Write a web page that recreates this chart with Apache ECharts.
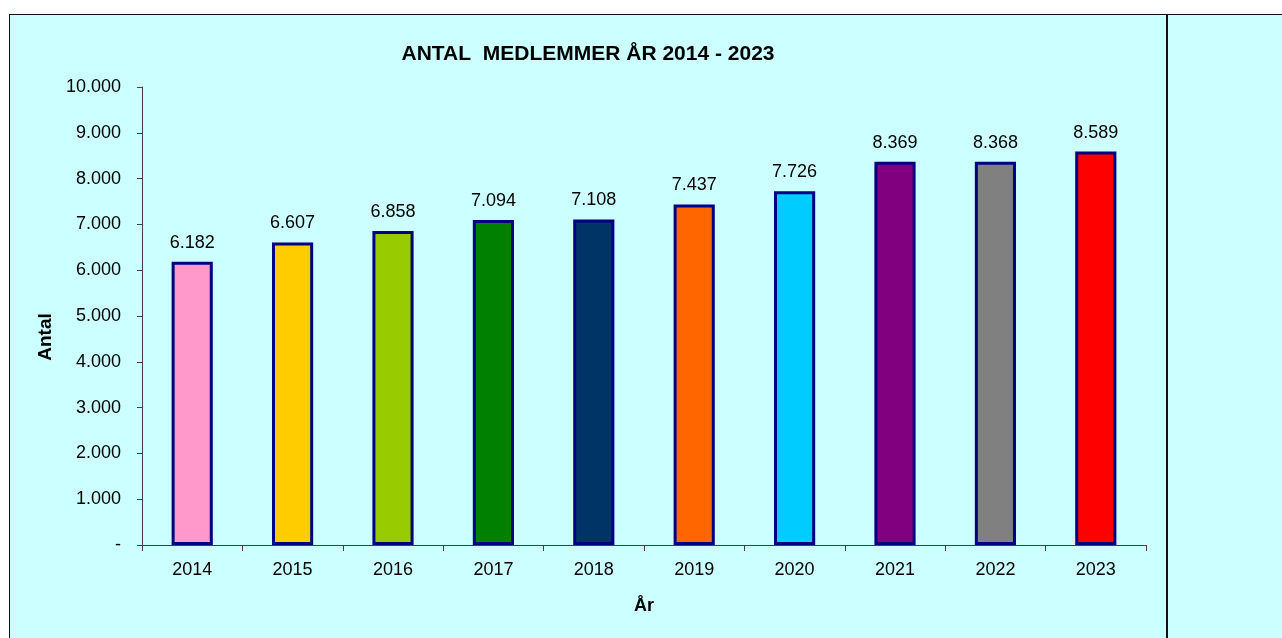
<!DOCTYPE html>
<html>
<head>
<meta charset="utf-8">
<script src="https://cdn.jsdelivr.net/npm/echarts@6/dist/echarts.min.js"></script>
<style>
  html, body { margin: 0; padding: 0; background: #fff; }
  #frame {
    position: absolute; left: 9px; top: 14px; width: 1273px; height: 624px;
    background: #ccffff; border-left: 1.5px solid #111; border-top: 1.5px solid #111;
    box-sizing: border-box;
  }
  #divider { position: absolute; left: 1166px; top: 14px; width: 1.5px; height: 624px; background: #111; }
  #chart { position: absolute; left: 0; top: 0; width: 1282px; height: 638px; }
</style>
</head>
<body>
<div id="frame"></div>
<div id="divider"></div>
<div id="chart"></div>
<script>
// data
const years = ['2014', '2015', '2016', '2017', '2018', '2019', '2020', '2021', '2022', '2023']
const members = [6182, 6607, 6858, 7094, 7108, 7437, 7726, 8369, 8368, 8589]
const barColors = ['#ff99cc', '#ffcc00', '#99cc00', '#008000', '#003366', '#ff6600', '#00ccff', '#800080', '#808080', '#ff0000']

// tusindtal med punktum, 0 vises som '-'
const fmt = v => {
  if (v === 0) return '-'
  return String(v).replace(/\B(?=(\d{3})+(?!\d))/g, '.')
}

const chart = echarts.init(document.getElementById('chart'))
chart.setOption({
  textStyle: { fontFamily: 'Liberation Sans, Arial, sans-serif' },
  title: {
    text: 'ANTAL  MEDLEMMER ÅR 2014 - 2023',
    left: 583,
    textAlign: 'center',
    top: 39,
    textStyle: { fontSize: 21, fontWeight: 'bold', color: '#000' }
  },
  grid: {
    left: 142,
    right: 136,
    top: 87,
    bottom: 93
  },
  graphic: [
    {
      // y-akse titel
      type: 'text',
      x: 46,
      y: 337,
      rotation: Math.PI / 2,
      style: {
        text: 'Antal',
        fontSize: 19,
        fontWeight: 'bold',
        fontFamily: 'Liberation Sans, Arial, sans-serif',
        fill: '#000',
        align: 'center',
        verticalAlign: 'middle'
      }
    }
  ],
  xAxis: {
    type: 'category',
    data: years,
    name: 'År',
    nameLocation: 'middle',
    nameGap: 52,
    nameTextStyle: { fontSize: 18, fontWeight: 'bold', color: '#000' },
    axisLine: { lineStyle: { color: '#404040', width: 1 } },
    axisTick: { show: true, length: 6, lineStyle: { color: '#404040' } },
    axisLabel: { color: '#000', fontSize: 18, margin: 16, interval: 0 }
  },
  yAxis: {
    type: 'value',
    min: 0,
    max: 10000,
    interval: 1000,
    axisLine: { show: true, lineStyle: { color: '#404040', width: 1 } },
    axisTick: { show: true, length: 5, lineStyle: { color: '#404040' } },
    axisLabel: { color: '#000', fontSize: 18, margin: 21, formatter: fmt },
    splitLine: { show: false }
  },
  series: [
    {
      type: 'bar',
      barWidth: '41%',
      data: members.map((v, i) => ({
        value: v,
        itemStyle: { color: barColors[i] }
      })),
      itemStyle: { borderColor: '#000080', borderWidth: 3 },
      label: {
        show: true,
        position: 'top',
        distance: 10,
        color: '#000',
        fontSize: 18,
        formatter: p => fmt(p.value)
      },
      animation: false
    }
  ]
})
</script>
</body>
</html>
